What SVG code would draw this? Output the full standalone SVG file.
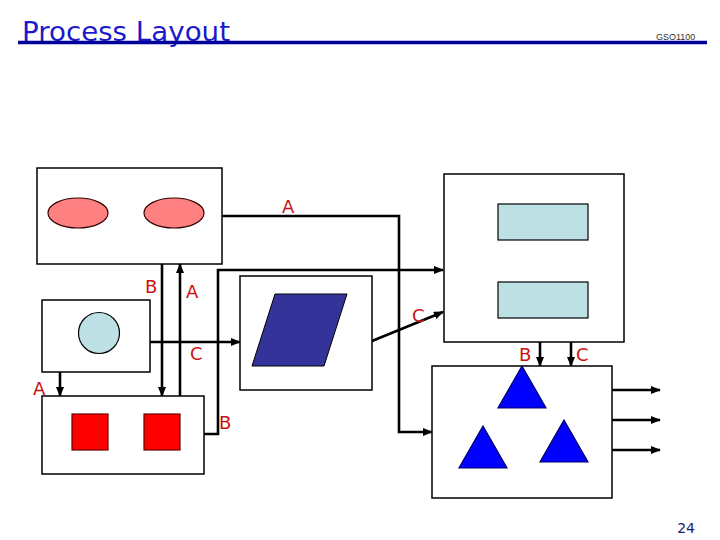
<svg xmlns="http://www.w3.org/2000/svg" width="720" height="540" viewBox="0 0 720 540">
<style>
.box{fill:#fff;stroke:#000;stroke-width:1.5}
.con{fill:none;stroke:#000;stroke-width:2.6}
.lbl{font-family:"DejaVu Sans",Verdana,sans-serif;font-size:18px;fill:#cc1111}
.ell{fill:#ff8080;stroke:#300;stroke-width:1.2}
.lb{fill:#bde0e4;stroke:#000;stroke-width:1.2}
.red{fill:#ff0000;stroke:#600;stroke-width:1.2}
.tri{fill:#0000ff;stroke:#000066;stroke-width:1.2}
</style>
<defs>
<marker id="ah" markerUnits="userSpaceOnUse" markerWidth="10" markerHeight="8" refX="9" refY="4" orient="auto">
<path d="M0,0 L10,4 L0,8 Z" fill="#000"/>
</marker>
</defs>
<rect width="720" height="540" fill="#fff"/>
<g id="title">
<text x="22" y="41" font-family="'DejaVu Sans',Verdana,sans-serif" font-size="27" fill="#1a1acc" textLength="208" lengthAdjust="spacingAndGlyphs">Process Layout</text>
<line x1="18" y1="42.5" x2="707" y2="42.5" stroke="#00009a" stroke-width="3.5"/>
<text x="656" y="40" font-family="'Liberation Sans',Arial,sans-serif" font-size="9" fill="#333">GSO1100</text>
</g>
<g id="connectors">
<polyline class="con" points="222,216 399,216 399,432 432,432" marker-end="url(#ah)"/>
<line class="con" x1="162" y1="264" x2="162" y2="396" marker-end="url(#ah)"/>
<line class="con" x1="180" y1="396" x2="180" y2="264" marker-end="url(#ah)"/>
<line class="con" x1="150" y1="342" x2="240" y2="342" marker-end="url(#ah)"/>
<line class="con" x1="60" y1="372" x2="60" y2="396" marker-end="url(#ah)"/>
<polyline class="con" points="204,434 218,434 218,270 443,270" marker-end="url(#ah)"/>
<line class="con" x1="372" y1="341" x2="443" y2="312" marker-end="url(#ah)"/>
<line class="con" x1="540" y1="342" x2="540" y2="366" marker-end="url(#ah)"/>
<line class="con" x1="571" y1="342" x2="571" y2="366" marker-end="url(#ah)"/>
<line class="con" x1="612" y1="390" x2="660" y2="390" marker-end="url(#ah)"/>
<line class="con" x1="612" y1="420" x2="660" y2="420" marker-end="url(#ah)"/>
<line class="con" x1="612" y1="450" x2="660" y2="450" marker-end="url(#ah)"/>
<text class="lbl" x="282" y="213">A</text>
<text class="lbl" x="145" y="293">B</text>
<text class="lbl" x="186" y="298">A</text>
<text class="lbl" x="190" y="360">C</text>
<text class="lbl" x="33" y="395">A</text>
<text class="lbl" x="219" y="429">B</text>
<text class="lbl" x="412" y="322">C</text>
<text class="lbl" x="519" y="361">B</text>
<text class="lbl" x="576" y="361">C</text>
</g>
<g id="node-ellipses">
<rect class="box" x="37" y="168" width="185" height="96"/>
<ellipse class="ell" cx="78" cy="213" rx="30" ry="15"/>
<ellipse class="ell" cx="174" cy="213" rx="30" ry="15"/>
</g>
<g id="node-circle">
<rect class="box" x="42" y="300" width="108" height="72"/>
<circle class="lb" cx="99" cy="333" r="20.5"/>
</g>
<g id="node-squares">
<rect class="box" x="42" y="396" width="162" height="78"/>
<rect class="red" x="72" y="414" width="36" height="36"/>
<rect class="red" x="144" y="414" width="36" height="36"/>
</g>
<g id="node-parallelogram">
<rect class="box" x="240" y="276" width="132" height="114"/>
<polygon points="275,294 347,294 324,366 252,366" fill="#333399" stroke="#000" stroke-width="1"/>
</g>
<g id="node-rects">
<rect class="box" x="444" y="174" width="180" height="168"/>
<rect class="lb" x="498" y="204" width="90" height="36"/>
<rect class="lb" x="498" y="282" width="90" height="36"/>
</g>
<g id="node-triangles">
<rect class="box" x="432" y="366" width="180" height="132"/>
<polygon class="tri" points="522,366 546,408 498,408"/>
<polygon class="tri" points="483,426 507,468 459,468"/>
<polygon class="tri" points="564,420 588,462 540,462"/>
</g>
<text x="695" y="533" text-anchor="end" font-family="'DejaVu Sans',Verdana,sans-serif" font-size="14" fill="#1a1a66">24</text>
</svg>
